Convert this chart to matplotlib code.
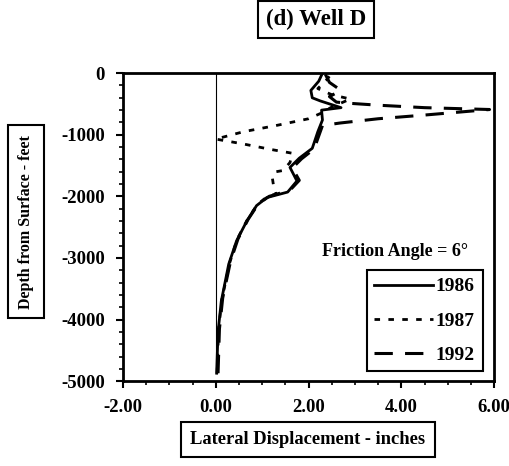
import matplotlib.pyplot as plt
from matplotlib.ticker import MultipleLocator, FormatStrFormatter

plt.rcParams['font.family'] = ['Liberation Serif', 'DejaVu Serif']
plt.rcParams['font.weight'] = 'bold'
plt.rcParams['axes.unicode_minus'] = False

# displacement (inches) vs depth (feet)
x_1986 = [0.02, 0.05, 0.12, 0.28, 0.45, 0.67, 0.88, 1.10, 1.55, 1.75, 1.60, 1.80,
          2.08, 2.20, 2.30, 2.28, 2.70, 2.25, 2.08, 2.05, 2.22, 2.30]
y_1986 = [-4870, -4200, -3700, -3100, -2720, -2400, -2150, -2020, -1930, -1750, -1530, -1380,
          -1220, -950, -760, -600, -560, -450, -400, -280, -130, 0]

x_1987 = [0.03, 0.06, 0.13, 0.30, 0.46, 0.68, 0.90, 1.10, 1.30, 1.25, 1.22, 1.30, 1.45,
          1.60, 1.65, 1.20, 0.60, 0.00, 0.60, 1.30, 2.00, 2.30, 2.50, 2.90, 2.50, 2.20,
          2.40, 2.50]
y_1987 = [-4870, -4180, -3680, -3080, -2700, -2380, -2130, -2010, -1960, -1850, -1700, -1600,
          -1580, -1450, -1300, -1240, -1150, -1070, -950, -850, -740, -640, -550, -420,
          -350, -250, -100, 0]

x_1992 = [0.05, 0.08, 0.15, 0.32, 0.48, 0.70, 0.92, 1.15, 1.60, 1.80, 1.65, 1.85, 2.12,
          2.30, 2.67, 3.50, 4.50, 5.90, 4.50, 3.50, 2.90, 2.60, 2.45, 2.70, 2.45, 2.35]
y_1992 = [-4870, -4150, -3650, -3050, -2690, -2370, -2120, -2000, -1900, -1740, -1540, -1390,
          -1230, -850, -810, -740, -680, -590, -560, -520, -490, -470, -380, -280, -150, 0]

zero_x = [0.0, 0.0]
zero_y = [0, -4870]

fig = plt.figure(figsize=(5.10, 4.66), dpi=100)
ax = fig.add_axes([0.241, 0.182, 0.728, 0.661])

ax.plot(zero_x, zero_y, color='black', lw=0.8)
ax.plot(x_1986, y_1986, color='black', lw=2.0, ls='-', label='1986')
ax.plot(x_1987, y_1987, color='black', lw=2.0, ls=(0, (2, 3)), label='1987')
ax.plot(x_1992, y_1992, color='black', lw=2.2, ls=(0, (6, 4)), label='1992')

ax.set_xlim(-2, 6)
ax.set_ylim(-5000, 0)
ax.xaxis.set_major_locator(MultipleLocator(2))
ax.xaxis.set_minor_locator(MultipleLocator(0.5))
ax.yaxis.set_major_locator(MultipleLocator(1000))
ax.yaxis.set_minor_locator(MultipleLocator(200))
ax.xaxis.set_major_formatter(FormatStrFormatter('%.2f'))
ax.tick_params(which='major', direction='out', length=5, width=1.5, labelsize=13.5, pad=8)
ax.tick_params(which='minor', direction='out', length=3, width=1.2)
for s in ax.spines.values():
    s.set_linewidth(2.0)

ax.text(0.93, 0.42, 'Friction Angle = 6\u00b0', transform=ax.transAxes,
        ha='right', va='center', fontsize=13, fontweight='bold')

leg = ax.legend(loc='lower right', bbox_to_anchor=(0.995, 0.0), fontsize=14,
                handlelength=3.0, handletextpad=0.15, borderpad=0.4, labelspacing=0.85,
                fancybox=False, framealpha=1, edgecolor='black')
leg.get_frame().set_linewidth(1.5)

box = dict(boxstyle='square,pad=0.35', fc='white', ec='black', lw=1.5)
fig.text(0.62, 0.959, '(d) Well D', ha='center', va='center', fontsize=16.5,
         fontweight='bold', bbox=box)
fig.text(0.051, 0.524, 'Depth from Surface - feet', ha='center', va='center',
         rotation=90, fontsize=11.5, fontweight='bold',
         bbox=dict(boxstyle='square,pad=0.6', fc='white', ec='black', lw=1.5))
fig.text(0.604, 0.057, 'Lateral Displacement - inches', ha='center', va='center',
         fontsize=13.3, fontweight='bold',
         bbox=dict(boxstyle='square,pad=0.5', fc='white', ec='black', lw=1.5))

fig.savefig('out.png', dpi=100)
